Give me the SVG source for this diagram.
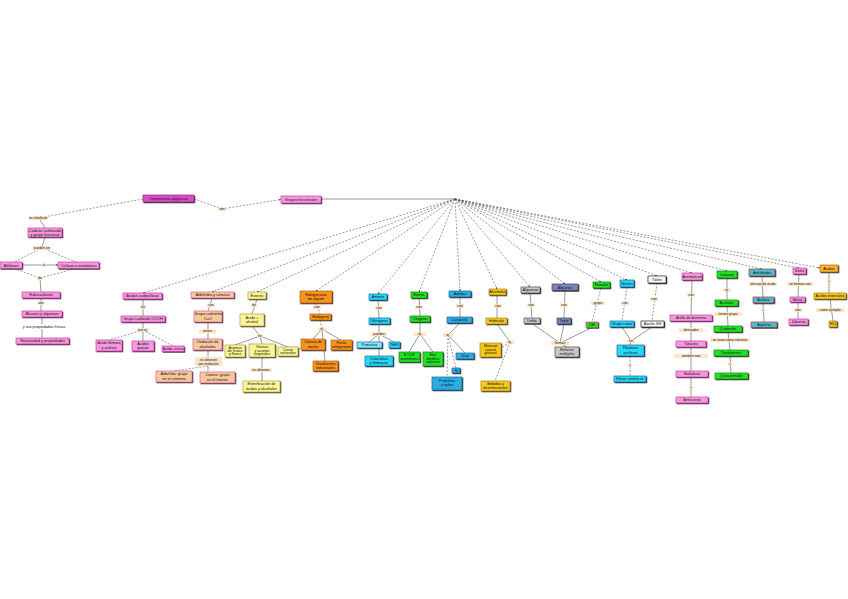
<svg xmlns="http://www.w3.org/2000/svg" width="848" height="599" viewBox="0 0 848 599">
<style>
text{font-family:"Liberation Sans",Arial,sans-serif;font-size:3.8px;fill:#111;text-anchor:middle}
.n{stroke-width:0.6;filter:url(#ds)}
.pk{fill:#f29ad8;stroke:#d81fb4}
.mg{fill:#d94fc4;stroke:#8a1a80}
.pc{fill:#f8c89c;stroke:#d050a0}
.ye{fill:#fbf59a;stroke:#a89a20}
.or{fill:#f7931e;stroke:#b05a00}
.cy{fill:#28d8f2;stroke:#1058a0}
.lc{fill:#7fe8f8;stroke:#1058a0}
.gr{fill:#24e024;stroke:#107810}
.bl{fill:#2aaee2;stroke:#105890}
.go{fill:#f6c81a;stroke:#a07800}
.gy{fill:#c8c8c8;stroke:#404040}
.sl{fill:#7a86b8;stroke:#303860}
.wh{fill:#f8f8f8;stroke:#111}
.tl{fill:#46bfd0;stroke:#c02020}
.ao{fill:#f7b030;stroke:#b06000}
.c line,.c path{stroke:#555;stroke-width:0.6;fill:none}
.d{stroke-dasharray:2 1.5}
.a{marker-end:url(#ar)}
.lb rect{fill:#fde3c4}
.lb text{font-size:3.4px}
</style>
<defs>
<filter id="ds" x="-20%" y="-20%" width="140%" height="160%"><feDropShadow dx="0.9" dy="0.9" stdDeviation="0.2" flood-color="#333"/></filter>
<marker id="ar" viewBox="0 0 6 6" refX="5.5" refY="3" markerWidth="3" markerHeight="3" orient="auto"><path d="M0,0L6,3L0,6z" fill="#222"/></marker>
</defs>
<rect width="848" height="599" fill="#fff"/>
<g class="c" id="connectors">
<line class="d" x1="194" y1="199" x2="222" y2="209"/>
<line class="d a" x1="222" y1="209" x2="281" y2="199.5"/>
<line class="d" x1="143" y1="199" x2="38" y2="218"/>
<line x1="321" y1="199" x2="455" y2="199"/>
<line x1="40" y1="220" x2="45" y2="228"/>
<line x1="45" y1="237" x2="42" y2="248"/>
<line class="d" x1="42" y1="248" x2="14" y2="262"/>
<line class="d" x1="42" y1="248" x2="76" y2="262"/>
<line class="a" x1="22" y1="265" x2="58" y2="265"/>
<line class="d" x1="14" y1="268.5" x2="40" y2="278"/>
<line class="d" x1="76" y1="268.5" x2="40" y2="278"/>
<line x1="40" y1="278" x2="41" y2="292"/>
<line x1="41" y1="298" x2="41" y2="311"/>
<line x1="42" y1="317" x2="42" y2="324"/>
<line x1="42" y1="329" x2="42" y2="338"/>
<g class="d a">
<line x1="455" y1="199" x2="143" y2="293"/>
<line x1="455" y1="199" x2="212" y2="292"/>
<line x1="455" y1="199" x2="257" y2="292"/>
<line x1="455" y1="199" x2="316" y2="291"/>
<line x1="455" y1="199" x2="378" y2="294"/>
<line x1="455" y1="199" x2="419" y2="292"/>
<line x1="455" y1="199" x2="460" y2="291"/>
<line x1="455" y1="199" x2="497" y2="289"/>
<line x1="455" y1="199" x2="530" y2="287"/>
<line x1="455" y1="199" x2="565" y2="284"/>
<line x1="455" y1="199" x2="601" y2="282"/>
<line x1="455" y1="199" x2="627" y2="280"/>
<line x1="455" y1="199" x2="657" y2="276"/>
<line x1="455" y1="199" x2="692" y2="273"/>
<line x1="455" y1="199" x2="727" y2="271"/>
<line x1="455" y1="199" x2="762" y2="269"/>
<line x1="455" y1="199" x2="799" y2="268"/>
<line x1="455" y1="199" x2="820" y2="268"/>
</g>
<line x1="143" y1="299" x2="143" y2="316"/>
<line x1="143" y1="322" x2="143" y2="330"/>
<line class="d" x1="143" y1="330" x2="109" y2="340"/>
<line x1="143" y1="330" x2="143" y2="341"/>
<line class="d" x1="143" y1="330" x2="173" y2="346"/>
<line x1="212" y1="298" x2="208" y2="311"/>
<line x1="208" y1="322" x2="208" y2="339"/>
<line x1="208" y1="350" x2="208" y2="357"/>
<line x1="208" y1="366" x2="208" y2="371"/>
<line class="d" x1="208" y1="366" x2="174" y2="371"/>
<line x1="257" y1="299" x2="252" y2="314"/>
<line x1="252" y1="326" x2="260" y2="336"/>
<line x1="260" y1="336" x2="235" y2="345"/>
<line x1="260" y1="336" x2="262" y2="344"/>
<line x1="260" y1="336" x2="288" y2="347"/>
<line x1="262" y1="357" x2="262" y2="368"/>
<line x1="262" y1="372" x2="262" y2="381"/>
<line class="d" x1="316" y1="303" x2="320" y2="314"/>
<line class="d" x1="320" y1="320" x2="322" y2="329"/>
<line x1="322" y1="329" x2="313" y2="339"/>
<line x1="322" y1="329" x2="341" y2="340"/>
<line x1="322" y1="329" x2="325" y2="361"/>
<line x1="378" y1="300" x2="379" y2="318"/>
<line x1="379" y1="324" x2="379" y2="334"/>
<line x1="379" y1="334" x2="369" y2="342"/>
<line x1="379" y1="334" x2="394" y2="342"/>
<line x1="379" y1="334" x2="379" y2="356"/>
<line x1="419" y1="298" x2="420" y2="316"/>
<line x1="420" y1="322" x2="420" y2="334"/>
<line x1="420" y1="334" x2="409" y2="352"/>
<line x1="420" y1="334" x2="433" y2="352"/>
<line x1="460" y1="297" x2="460" y2="317"/>
<line x1="460" y1="323" x2="448" y2="335"/>
<line class="d" x1="448" y1="335" x2="456" y2="368"/>
<line x1="448" y1="335" x2="465" y2="353"/>
<line class="d" x1="448" y1="335" x2="447" y2="377"/>
<line x1="497" y1="295" x2="497" y2="318"/>
<line x1="497" y1="324" x2="510" y2="342"/>
<line class="d" x1="510" y1="342" x2="500" y2="349"/>
<line class="d" x1="510" y1="342" x2="495" y2="381"/>
<line x1="530" y1="293" x2="532" y2="318"/>
<line x1="565" y1="290.5" x2="564" y2="318"/>
<line class="d" x1="601" y1="288" x2="592" y2="322"/>
<line x1="532" y1="323.5" x2="560" y2="343"/>
<line x1="564" y1="324" x2="560" y2="343"/>
<line x1="592" y1="327.5" x2="560" y2="343"/>
<line x1="560" y1="343" x2="567" y2="347"/>
<line class="d" x1="627" y1="287" x2="622" y2="321"/>
<line x1="622" y1="327" x2="631" y2="341"/>
<line x1="652" y1="327" x2="631" y2="341"/>
<line x1="631" y1="341" x2="630" y2="345"/>
<line class="d" x1="630" y1="356" x2="630" y2="376"/>
<line class="d" x1="657" y1="283" x2="652" y2="321"/>
<line x1="692" y1="280" x2="691" y2="315"/>
<line x1="691" y1="321" x2="691" y2="341"/>
<line x1="691" y1="347" x2="691" y2="371"/>
<line x1="691" y1="377" x2="691" y2="397"/>
<line x1="727" y1="278" x2="727" y2="300"/>
<line x1="727" y1="306" x2="728" y2="326"/>
<line x1="728" y1="332" x2="730" y2="350"/>
<line x1="730" y1="356" x2="731" y2="373"/>
<line x1="762" y1="276" x2="763" y2="297"/>
<line x1="763" y1="303" x2="764" y2="322"/>
<line x1="799" y1="274" x2="798" y2="297"/>
<line x1="798" y1="302" x2="798" y2="319"/>
<line x1="829" y1="272" x2="829" y2="293"/>
<line x1="830" y1="299" x2="833" y2="321"/>
</g>
<g id="labels">
<g class="lb"><rect x="218" y="207.3" width="8" height="3.6"/><text x="222" y="210.2">son</text></g>
<g class="lb"><rect x="29" y="216.3" width="19" height="3.6" fill="#fff"/><text x="38" y="219.2">se clasifican</text></g>
<g class="lb"><rect x="34" y="246.3" width="16" height="3.6" fill="#fff"/><text x="42" y="249.2">pueden ser</text></g>
<g class="lb"><rect x="42" y="263.3" width="4" height="3.6"/><text x="44" y="266.2">o</text></g>
<g class="lb"><rect x="37" y="276.3" width="6" height="3.6" fill="#fff"/><text x="40" y="279.2">de</text></g>
<g class="lb"><rect x="38" y="301.3" width="6" height="3.6"/><text x="41" y="304.2">son</text></g>
<text x="44" y="327.5">y sus propiedades físicas</text>
<g class="lb"><rect x="140" y="305.3" width="6" height="3.6"/><text x="143" y="308.2">es</text></g>
<g class="lb"><rect x="137" y="328.3" width="12" height="3.6"/><text x="143" y="331.2">por ej.</text></g>
<g class="lb"><rect x="207" y="303.3" width="8" height="3.6"/><text x="211" y="306.2">con</text></g>
<g class="lb"><rect x="199" y="329.5" width="17" height="3.8"/><text x="207.5" y="332.4">tienen</text></g>
<g class="lb"><rect x="195" y="357" width="27" height="9"/><text x="208.5" y="360.8">se obtienen</text><text x="208.5" y="364.6">por oxidación</text></g>
<g class="lb"><rect x="251" y="303.3" width="6" height="3.6"/><text x="254" y="306.2">de</text></g>
<g class="lb"><rect x="257" y="334.3" width="6" height="3.6"/><text x="260" y="337.2">en</text></g>
<g class="lb"><rect x="250" y="368.3" width="22" height="3.6"/><text x="261" y="371.2">se obtienen</text></g>
<g class="lb"><rect x="313" y="305.3" width="8" height="3.6"/><text x="317" y="308.2">con</text></g>
<g class="lb"><rect x="318" y="327.3" width="8" height="3.6"/><text x="322" y="330.2">ej.</text></g>
<g class="lb"><rect x="375" y="306.3" width="8" height="3.6"/><text x="379" y="309.2">con</text></g>
<g class="lb"><rect x="371" y="332.3" width="16" height="3.6"/><text x="379" y="335.2">pueden</text></g>
<g class="lb"><rect x="415" y="305.3" width="8" height="3.6"/><text x="419" y="308.2">con</text></g>
<g class="lb"><rect x="414" y="332.3" width="12" height="3.6"/><text x="420" y="335.2">ej.</text></g>
<g class="lb"><rect x="456" y="304.3" width="8" height="3.6"/><text x="460" y="307.2">con</text></g>
<g class="lb"><rect x="443" y="333.3" width="10" height="3.6"/><text x="448" y="336.2">ej.</text></g>
<g class="lb"><rect x="494" y="304.3" width="8" height="3.6"/><text x="498" y="307.2">con</text></g>
<g class="lb"><rect x="506" y="340.3" width="8" height="3.6"/><text x="510" y="343.2">ej.</text></g>
<g class="lb"><rect x="527" y="303.3" width="8" height="3.6"/><text x="531" y="306.2">con</text></g>
<g class="lb"><rect x="560" y="303.3" width="8" height="3.6"/><text x="564" y="306.2">con</text></g>
<g class="lb"><rect x="591" y="301.3" width="14" height="3.6"/><text x="598" y="304.2">grupo</text></g>
<g class="lb"><rect x="551" y="341.3" width="18" height="3.6"/><text x="560" y="344.2">forman</text></g>
<g class="lb"><rect x="621" y="301.3" width="8" height="3.6"/><text x="625" y="304.2">con</text></g>
<g class="lb"><rect x="627" y="339.3" width="8" height="3.6"/><text x="631" y="342.2">en</text></g>
<g class="lb"><rect x="628" y="363.3" width="4" height="3.6"/><text x="630" y="366.2">+</text></g>
<g class="lb"><rect x="650" y="297.3" width="8" height="3.6"/><text x="654" y="300.2">con</text></g>
<g class="lb"><rect x="687" y="293.3" width="8" height="3.6"/><text x="691" y="296.2">con</text></g>
<g class="lb"><rect x="679" y="328.3" width="24" height="3.6"/><text x="691" y="331.2">derivados</text></g>
<g class="lb"><rect x="674" y="354.3" width="34" height="3.6"/><text x="691" y="357.2">también son</text></g>
<g class="lb"><rect x="689" y="385.3" width="4" height="3.6"/><text x="691" y="388.2">+</text></g>
<g class="lb"><rect x="723" y="288.3" width="8" height="3.6"/><text x="727" y="291.2">ej.</text></g>
<g class="lb"><rect x="714" y="312.3" width="28" height="3.6"/><text x="728" y="315.2">tienen grupo</text></g>
<g class="lb"><rect x="710" y="338.3" width="40" height="3.6"/><text x="730" y="341.2">se usan como solvente</text></g>
<g class="lb"><rect x="728" y="362.3" width="4" height="3.6"/><text x="730" y="365.2">+</text></g>
<g class="lb"><rect x="749" y="282.3" width="28" height="3.6"/><text x="763" y="285.2">derivan de ácido</text></g>
<g class="lb"><rect x="761" y="308.3" width="4" height="3.6"/><text x="763" y="311.2">+</text></g>
<g class="lb"><rect x="787" y="282.3" width="26" height="3.6"/><text x="800" y="285.2">se forman con</text></g>
<g class="lb"><rect x="794" y="308.3" width="8" height="3.6"/><text x="798" y="311.2">son</text></g>
<g class="lb"><rect x="827" y="279.3" width="4" height="3.6"/><text x="829" y="282.2">+</text></g>
<g class="lb"><rect x="816" y="308.3" width="28" height="3.6"/><text x="830" y="311.2">como ejemplo</text></g>
</g>
<g id="n-compuestos"><rect class="n mg" x="143" y="195" width="51" height="7"/><text x="168.5" y="199.8">Compuestos orgánicos</text></g>
<g id="n-grupos"><rect class="n pk" x="281" y="196" width="40" height="7"/><text x="301" y="200.8">Grupos funcionales</text></g>
<g id="n-cadena"><rect class="n pk" x="28" y="228" width="34" height="9"/><text x="45" y="231.8">Cadena carbonada</text><text x="45" y="235.6">y grupo funcional</text></g>
<g id="n-alif"><rect class="n pk" x="0" y="262" width="22" height="6.5"/><text x="11" y="266.5">Alifáticos</text></g>
<g id="n-cicl"><rect class="n pk" x="58" y="262" width="41" height="6.5"/><text x="78.5" y="266.5">Cíclicos o aromáticos</text></g>
<g id="n-hidro"><rect class="n pk" x="22" y="292" width="38" height="6"/><text x="41" y="296.3">Hidrocarburos</text></g>
<g id="n-alcanos"><rect class="n pk" x="22" y="311" width="40" height="6"/><text x="42" y="315.3">Alcanos y alquenos</text></g>
<g id="n-react"><rect class="n pk" x="16" y="338" width="53" height="6"/><text x="42.5" y="342.3">Reactividad y propiedades</text></g>
<g id="c1"><rect class="n pk" x="123" y="293" width="39" height="6"/><text x="142.5" y="297.3">Ácidos carboxílicos</text></g>
<g id="c1a"><rect class="n pk" x="121" y="316" width="44" height="6"/><text x="143" y="320.3">Grupo carboxilo COOH</text></g>
<g id="c1b"><rect class="n pk" x="96" y="340" width="26" height="11"/><text x="109" y="344.3">Ácido fórmico</text><text x="109" y="348.6">y acético</text></g>
<g id="c1c"><rect class="n pk" x="132" y="341" width="22" height="10"/><text x="143" y="345">Ácidos</text><text x="143" y="349">grasos</text></g>
<g id="c1d"><rect class="n pk" x="162" y="346" width="22" height="5.5"/><text x="173" y="350">Ácido cítrico</text></g>
<g id="c2"><rect class="n pc" x="191" y="292" width="43" height="6"/><text x="212.5" y="296.3">Aldehídos y cetonas</text></g>
<g id="c2a"><rect class="n pc" x="194" y="311" width="28" height="11"/><text x="208" y="315.3">Grupo carbonilo</text><text x="208" y="319.5">C=O</text></g>
<g id="c2b"><rect class="n pc" x="193" y="339" width="29" height="11"/><text x="207.5" y="343.3">Oxidación de</text><text x="207.5" y="347.5">alcoholes</text></g>
<g id="c2c"><rect class="n pc" x="156" y="371" width="36" height="11"/><text x="174" y="375.3">Aldehído: grupo</text><text x="174" y="379.5">en el extremo</text></g>
<g id="c2d"><rect class="n pc" x="200" y="372" width="35" height="11"/><text x="217.5" y="376.3">Cetona: grupo</text><text x="217.5" y="380.5">en el interior</text></g>
<g id="c3"><rect class="n ye" x="248" y="292" width="18" height="7"/><text x="257" y="296.8">Ésteres</text></g>
<g id="c3a"><rect class="n ye" x="240" y="314" width="24" height="12"/><text x="252" y="318.8">Ácido +</text><text x="252" y="323">alcohol</text></g>
<g id="c3b"><rect class="n ye" x="225" y="345" width="20" height="12"/><text x="235" y="348.6">Aromas</text><text x="235" y="352">de frutas</text><text x="235" y="355.4">y flores</text></g>
<g id="c3c"><rect class="n ye" x="249" y="344" width="26" height="13"/><text x="262" y="348">Grasas</text><text x="262" y="351.6">y aceites</text><text x="262" y="355.2">vegetales</text></g>
<g id="c3d"><rect class="n ye" x="278" y="347" width="20" height="9"/><text x="288" y="350.7">Ceras</text><text x="288" y="354.3">naturales</text></g>
<g id="c3e"><rect class="n ye" x="243" y="381" width="37" height="11"/><text x="261.5" y="385.3">Esterificación de</text><text x="261.5" y="389.5">ácidos y alcoholes</text></g>
<g id="c4"><rect class="n or" x="300" y="291" width="32" height="12"/><text x="316" y="295.8">Halogenuros</text><text x="316" y="300">de alquilo</text></g>
<g id="c4a"><rect class="n or" x="310" y="314" width="21" height="6"/><text x="320.5" y="318.3">Halógeno</text></g>
<g id="c4b"><rect class="n or" x="301" y="339" width="24" height="11"/><text x="313" y="343.3">Cloruro de</text><text x="313" y="347.5">metilo</text></g>
<g id="c4c"><rect class="n or" x="331" y="340" width="21" height="10"/><text x="341.5" y="344">Freón</text><text x="341.5" y="348">refrigerante</text></g>
<g id="c4d"><rect class="n or" x="313" y="361" width="25" height="10"/><text x="325.5" y="365">Disolventes</text><text x="325.5" y="369">industriales</text></g>
<g id="c5"><rect class="n cy" x="369" y="294" width="18" height="6"/><text x="378" y="298.3">Aminas</text></g>
<g id="c5a"><rect class="n cy" x="369" y="318" width="21" height="6"/><text x="379.5" y="322.3">Nitrógeno</text></g>
<g id="c5b"><rect class="n lc" x="357" y="342" width="25" height="6"/><text x="369.5" y="346.3">Primarias</text></g>
<g id="c5c"><rect class="n cy" x="389" y="342" width="11" height="6"/><text x="394.5" y="346.3">NH3</text></g>
<g id="c5d"><rect class="n cy" x="365" y="356" width="28" height="10"/><text x="379" y="360">Colorantes</text><text x="379" y="364">y fármacos</text></g>
<g id="c6"><rect class="n gr" x="411" y="292" width="16" height="6"/><text x="419" y="296.3">Éteres</text></g>
<g id="c6a"><rect class="n gr" x="410" y="316" width="20" height="6"/><text x="420" y="320.3">Oxígeno</text></g>
<g id="c6b"><rect class="n gr" x="399" y="352" width="21" height="10"/><text x="409.5" y="356">R-O-R'</text><text x="409.5" y="360">anestésico</text></g>
<g id="c6c"><rect class="n gr" x="423" y="352" width="20" height="14"/><text x="433" y="356">Éter</text><text x="433" y="359.6">dietílico</text><text x="433" y="363.2">solvente</text></g>
<g id="c7"><rect class="n bl" x="449" y="291" width="22" height="6"/><text x="460" y="295.3">Amidas</text></g>
<g id="c7a"><rect class="n bl" x="447" y="317" width="25" height="6"/><text x="459.5" y="321.3">Carbonilo</text></g>
<g id="c7b"><rect class="n bl" x="456" y="353" width="18" height="6"/><text x="465" y="357.3">Urea</text></g>
<g id="c7c"><rect class="n bl" x="452" y="368" width="8" height="5"/><text x="456" y="371.8">N</text></g>
<g id="c7d"><rect class="n bl" x="432" y="377" width="30" height="13"/><text x="447" y="382.3">Proteínas</text><text x="447" y="386.3">y nylon</text></g>
<g id="c8"><rect class="n go" x="489" y="289" width="17" height="6"/><text x="497.5" y="293.3">Alcoholes</text></g>
<g id="c8a"><rect class="n go" x="486" y="318" width="21" height="6"/><text x="496.5" y="322.3">Hidroxilo</text></g>
<g id="c8b"><rect class="n go" x="480" y="343" width="21" height="14"/><text x="490.5" y="347">Metanol</text><text x="490.5" y="350.6">etanol</text><text x="490.5" y="354.2">glicerol</text></g>
<g id="c8c"><rect class="n go" x="481" y="381" width="29" height="10"/><text x="495.5" y="385">Bebidas y</text><text x="495.5" y="389">desinfectantes</text></g>
<g id="c9"><rect class="n gy" x="521" y="287" width="19" height="6"/><text x="530.5" y="291.3">Alquenos</text></g>
<g id="c9a"><rect class="n gy" x="524" y="318" width="16" height="5.5"/><text x="532" y="322">Doble</text></g>
<g id="c9b"><rect class="n gy" x="555" y="347" width="24" height="10"/><text x="567" y="351">Enlaces</text><text x="567" y="355">múltiples</text></g>
<g id="c10"><rect class="n sl" x="552" y="284" width="26" height="6.5"/><text x="565" y="288.5">Alquinos</text></g>
<g id="c10a"><rect class="n sl" x="557" y="318" width="14" height="6"/><text x="564" y="322.3">Triple</text></g>
<g id="c11"><rect class="n gr" x="593" y="282" width="17" height="6"/><text x="601.5" y="286.3">Fenoles</text></g>
<g id="c11a"><rect class="n gr" x="586" y="322" width="12" height="5.5" style="stroke:#e04080"/><text x="592" y="326">OH</text></g>
<g id="c12"><rect class="n cy" x="620" y="280" width="14" height="7"/><text x="627" y="284.8">Nitrilos</text></g>
<g id="c12a"><rect class="n cy" x="610" y="321" width="24" height="6"/><text x="622" y="325.3">Grupo ciano</text></g>
<g id="c12b"><rect class="n cy" x="617" y="345" width="27" height="11"/><text x="630.5" y="349.3">Plásticos</text><text x="630.5" y="353.5">acrílicos</text></g>
<g id="c12c"><rect class="n cy" x="614" y="376" width="32" height="6"/><text x="630" y="380.3">Fibras sintéticas</text></g>
<g id="c13"><rect class="n wh" x="648" y="276" width="18" height="7"/><text x="657" y="280.8">Tioles</text></g>
<g id="c13a"><rect class="n wh" x="641" y="321" width="23" height="6"/><text x="652.5" y="325.3">Azufre SH</text></g>
<g id="c14"><rect class="n pk" x="682" y="273" width="20" height="7"/><text x="692" y="277.8">Aromáticos</text></g>
<g id="c14a"><rect class="n pk" x="670" y="315" width="42" height="6"/><text x="691" y="319.3">Anillo de benceno</text></g>
<g id="c14b"><rect class="n pk" x="676" y="341" width="30" height="6"/><text x="691" y="345.3">Tolueno</text></g>
<g id="c14c"><rect class="n pk" x="676" y="371" width="32" height="6"/><text x="692" y="375.3">Naftaleno</text></g>
<g id="c14d"><rect class="n pk" x="676" y="397" width="32" height="6"/><text x="692" y="401.3">Antraceno</text></g>
<g id="c15"><rect class="n gr" x="717" y="271" width="20" height="7"/><text x="727" y="275.8">Cetonas</text></g>
<g id="c15a"><rect class="n gr" x="715" y="300" width="23" height="6"/><text x="726.5" y="304.3">Acetona</text></g>
<g id="c15b"><rect class="n gr" x="714" y="326" width="28" height="6"/><text x="728" y="330.3">Carbonilo</text></g>
<g id="c15c"><rect class="n gr" x="714" y="350" width="34" height="6"/><text x="731" y="354.3">Disolventes</text></g>
<g id="c15d"><rect class="n gr" x="715" y="373" width="33" height="6"/><text x="731.5" y="377.3">Quitaesmalte</text></g>
<g id="c16"><rect class="n tl" x="749" y="269" width="26" height="7"/><text x="762" y="273.8">Anhídridos</text></g>
<g id="c16a"><rect class="n tl" x="753" y="297" width="21" height="6"/><text x="763.5" y="301.3">Acético</text></g>
<g id="c16b"><rect class="n tl" x="751" y="322" width="26" height="5.5"/><text x="764" y="326">Aspirina</text></g>
<g id="c17"><rect class="n pk" x="793" y="268" width="13" height="6"/><text x="799.5" y="272.3">Sales</text></g>
<g id="c17a"><rect class="n pk" x="790" y="297" width="15" height="5"/><text x="797.5" y="300.8">Metal</text></g>
<g id="c17b"><rect class="n pk" x="789" y="319" width="19" height="6"/><text x="798.5" y="323.3">Jabones</text></g>
<g id="c18"><rect class="n ao" x="820" y="265" width="18" height="7"/><text x="829" y="269.8">Ácidos</text></g>
<g id="c18a"><rect class="n go" x="814" y="293" width="32" height="6"/><text x="830" y="297.3">Ácidos minerales</text></g>
<g id="c18b"><rect class="n go" x="829" y="321" width="8" height="6"/><text x="833" y="325.3">HCl</text></g>
</svg>
